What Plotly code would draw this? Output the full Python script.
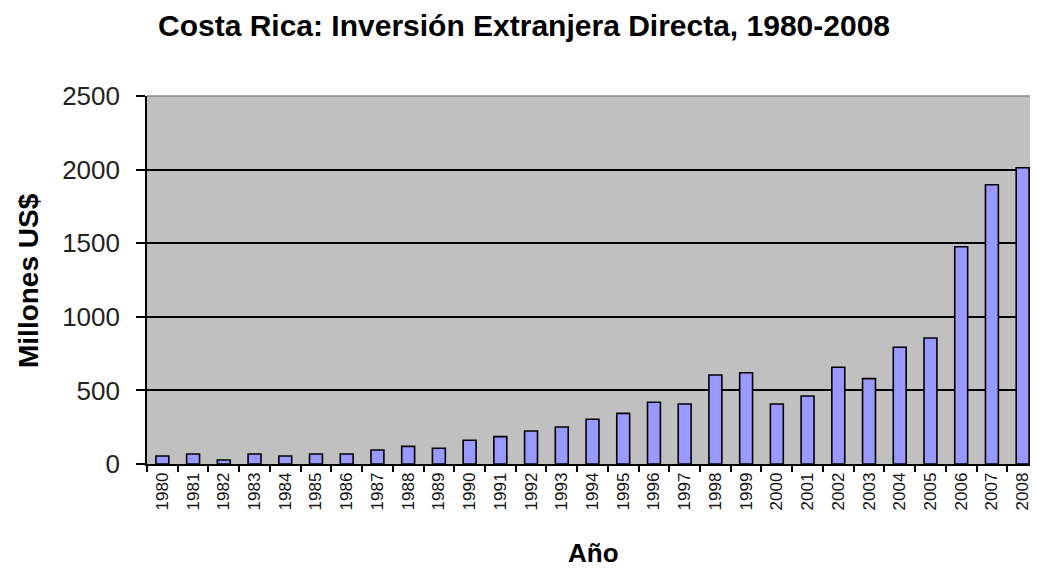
import plotly.graph_objects as go

years = [str(y) for y in range(1980, 2009)]
fdi = [54, 68, 27, 68, 54, 68, 68, 95, 120, 107, 161, 186, 224, 251, 304,
       344, 419, 408, 605, 620, 408, 462, 657, 580, 793, 856, 1476, 1897, 2013]
y_ticks = [0, 500, 1000, 1500, 2000, 2500]

title_text = "Costa Rica: Inversión Extranjera Directa, 1980-2008"
x_title = "Año"
y_title = "Millones US$"

FONT = "Liberation Sans, Arial, sans-serif"

# page has an 8px body margin; figure placed at (8, 8)
W, H = 1030, 561
L, T, B = 139, 88, 105
plot_w = W - L
plot_h = H - T - B

fig = go.Figure(go.Bar(
    x=years, y=fdi,
    marker=dict(color="#9999FF", line=dict(color="#000000", width=1.6)),
))

fig.update_layout(
    width=W, height=H,
    margin=dict(l=L, r=0, t=T, b=B),
    paper_bgcolor="white",
    plot_bgcolor="#C0C0C0",
    bargap=0.58,
    showlegend=False,
    font=dict(family=FONT, color="#000000"),
    title=dict(text="<b>" + title_text + "</b>", x=(524 - 8) / W, xref="container",
               xanchor="center", y=1 - (25 - 8) / H, yref="container", yanchor="middle",
               font=dict(size=30, family=FONT, color="#000000")),
)

fig.update_xaxes(
    type="category",
    tickangle=-90,
    tickfont=dict(size=17, family=FONT, color="#111111"),
    ticks="outside", ticklen=6, tickwidth=1.5, tickcolor="#000000",
    tickson="boundaries",
    showline=True, linecolor="#000000", linewidth=1.6,
    showgrid=False,
)

fig.update_yaxes(
    range=[0, 2500],
    tickvals=y_ticks,
    tickfont=dict(size=26, family=FONT, color="#222222"),
    ticks="outside", ticklen=9, tickwidth=1.5, tickcolor="#000000",
    ticklabelstandoff=11,
    showline=True, linecolor="#000000", linewidth=1.6,
    showgrid=True, gridcolor="#000000", gridwidth=1.6,
    zeroline=False,
)

# plot-area top border
fig.add_shape(type="line", xref="paper", yref="paper", x0=0, x1=1, y0=1, y1=1,
              line=dict(color="#8a8a8a", width=1.5))

fig.add_annotation(text="<b>" + x_title + "</b>", xref="paper", yref="paper",
                   x=(593 - 147) / plot_w, y=-(553 - 464) / plot_h,
                   xanchor="center", yanchor="middle",
                   showarrow=False, font=dict(size=26, family=FONT, color="#000000"))
fig.add_annotation(text="<b>" + y_title + "</b>", xref="paper", yref="paper",
                   x=-(147 - 28) / plot_w, y=(464 - 281) / plot_h, xanchor="center",
                   yanchor="middle", textangle=-90,
                   showarrow=False, font=dict(size=28, family=FONT, color="#000000"))

fig.write_html("out.html")
